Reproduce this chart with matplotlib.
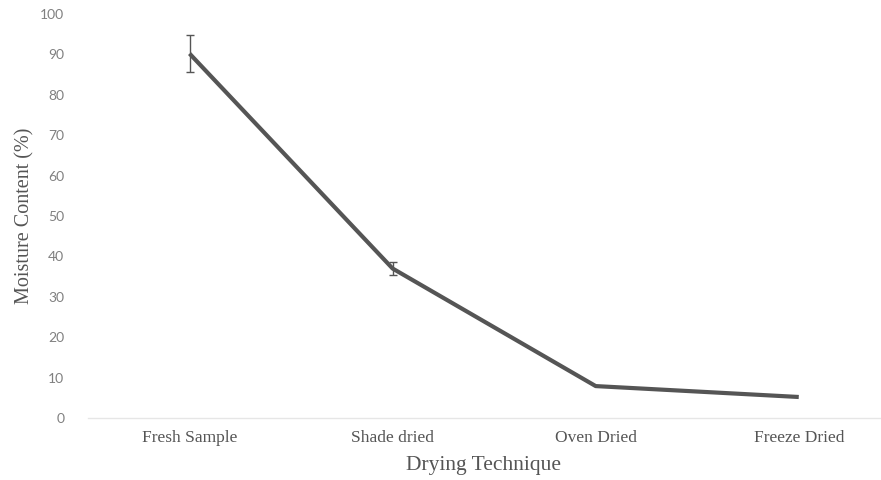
import matplotlib
matplotlib.use('Agg')
import matplotlib.pyplot as plt

# Moisture content by drying technique
techniques = ['Fresh Sample', 'Shade dried', 'Oven Dried', 'Freeze Dried']
moisture = [90.2, 37.0, 7.9, 5.2]
errors = [4.6, 1.6, 0.0, 0.0]

plt.rcParams['font.family'] = ['Liberation Serif', 'DejaVu Serif']

fig = plt.figure(figsize=(8.81, 4.8), dpi=100)
ax = fig.add_axes([88 / 881, 62 / 480, 792 / 881, 404 / 480])

x = list(range(len(techniques)))
ax.plot(x, moisture, color='#555555', linewidth=3.0, solid_capstyle='butt', zorder=3)

# only the points that have an error bar
ex = [i for i in x if errors[i] > 0]
ax.errorbar(ex, [moisture[i] for i in ex], yerr=[errors[i] for i in ex], fmt='none',
            ecolor='#555555', elinewidth=1.0, capsize=3, capthick=1.0, zorder=4)

ax.set_xlim(-0.5, 3.4)
ax.set_ylim(0, 100)
ax.set_yticks(range(0, 101, 10))
ax.set_xticks(x)
ax.set_xticklabels(techniques)

for side in ['top', 'right', 'left']:
    ax.spines[side].set_visible(False)
ax.spines['bottom'].set_color('#e6e6e6')
ax.spines['bottom'].set_linewidth(1.0)

ax.tick_params(axis='y', length=0, pad=17, labelsize=10, labelcolor='#808080')
for lbl in ax.get_yticklabels():
    lbl.set_fontfamily(['Lato', 'DejaVu Sans'])
ax.tick_params(axis='x', length=0, pad=9, labelsize=12.5, labelcolor='#555555')

ax.set_xlabel('Drying Technique', fontsize=15.5, color='#555555', labelpad=7)
ax.set_ylabel('Moisture Content (%)', fontsize=14.5, color='#555555', labelpad=4)

fig.savefig('out.png', dpi=100, facecolor='white')
